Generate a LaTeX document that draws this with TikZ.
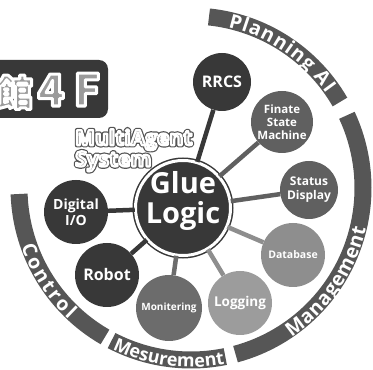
\documentclass[tikz,border=0pt]{standalone}
\usepackage{fontspec}
\setmainfont{Open Sans}
\newfontfamily\jpfont{Noto Sans CJK JP}
\usetikzlibrary{decorations.text}
\definecolor{DarkNode}{RGB}{56,56,56}
\definecolor{MidNode}{RGB}{96,96,96}
\definecolor{SoftNode}{RGB}{108,108,108}
\definecolor{LightNode}{RGB}{142,142,142}
\definecolor{PaleNode}{RGB}{156,156,156}
\definecolor{BandGray}{RGB}{86,86,86}
\definecolor{AgentGray}{RGB}{128,128,128}
\definecolor{GlyphGray}{RGB}{155,155,155}
\newcommand\arcfont{\bfseries\fontsize{19.5}{19.5}\selectfont}
\newcommand\arcfontsmall{\bfseries\fontsize{18}{18}\selectfont}
% stroked text: #1 line width, #2 stroke gray level, #3 text
\newcommand\strokedtext[3]{\special{pdf:literal direct #2 G #1 w 1 j 2 Tr}#3%
  \special{pdf:literal direct 0 Tr}}
\tikzset{
  hub/.style={circle,fill=DarkNode,draw=DarkNode,line width=1.5pt,
              double=white,double distance=3pt,minimum size=95pt,inner sep=0pt},
  hubtext/.style={text=white,align=center,inner sep=0pt,
                  font=\bfseries\fontsize{29}{30}\selectfont},
  sat/.style={circle,inner sep=0pt,text=white,align=center,
              font=\bfseries\fontsize{11.5}{13}\selectfont},
  band/.style={line width=17pt,BandGray},
  link/.style={line width=4.5pt},
  arclabel/.style={decoration={text along path,text color=white,
                   text align=fit to path},decorate},
  agent/.style={align=left,inner sep=0pt,anchor=north west,
                font=\bfseries\fontsize{21}{18}\selectfont},
  floorbox/.style={fill=DarkNode,rounded corners=9pt,minimum width=120pt,
                   minimum height=58pt,inner sep=0pt},
  floortext/.style={anchor=base,inner sep=0pt,font=\jpfont\bfseries},
}
\newcommand\floorlabel{{\fontsize{36}{36}\selectfont 館}%
  \makebox[36pt]{\fontsize{44}{44}\selectfont 4}%
  \makebox[36pt]{\fontsize{44}{44}\selectfont F}}

\begin{document}
\begin{tikzpicture}[x=1pt,y=1pt]
\useasboundingbox (0,0) rectangle (373,370);
\coordinate (ring) at (191,182);

\draw[band] ([shift={(84:172)}]ring) arc[start angle=84,end angle=30,radius=172];
\draw[band] ([shift={(-75:172)}]ring) arc[start angle=-75,end angle=25,radius=172];
\draw[band] ([shift={(-117.5:172)}]ring) arc[start angle=-117.5,end angle=-78.5,radius=172];
\draw[band] ([shift={(182:172)}]ring) arc[start angle=182,end angle=240,radius=172];

\begin{scope}
\arcfont
\path[arclabel,decoration={text={Planning AI}}]
  ([shift={(77:165)}]ring) arc[start angle=77,end angle=35,radius=165];
\path[arclabel,decoration={text={Management}}]
  ([shift={(-56:179.5)}]ring) arc[start angle=-56,end angle=-13,radius=179.5];
\path[arclabel,decoration={text={Control}}]
  ([shift={(199:179.5)}]ring) arc[start angle=199,end angle=227,radius=179.5];
\end{scope}
\begin{scope}
\arcfontsmall
\path[arclabel,decoration={text={Mesurement}}]
  ([shift={(-116:179)}]ring) arc[start angle=-116,end angle=-80,radius=179];
\end{scope}

\node[floorbox] (floor) at (48,281) {};
\node[floortext,text=GlyphGray] (floorname) at (51,264)
  {\strokedtext{3}{1}{\floorlabel}};

\node[hub] (glue) at (183,162) {};
\node[hubtext] (gluetext) at (183,169) {Glue\\Logic};

\node[sat,fill=DarkNode,minimum size=58pt,font=\bfseries\fontsize{16}{16}\selectfont]
  (rrcs) at (222,288) {RRCS};
\node[sat,fill=MidNode,minimum size=62pt] (fsm) at (282,248) {Finate\\State\\Machine};
\node[sat,fill=MidNode,minimum size=58pt,font=\bfseries\fontsize{12}{14}\selectfont]
  (status) at (309,180) {Status\\Display};
\node[sat,fill=LightNode,minimum size=64pt,font=\bfseries\fontsize{10.5}{11}\selectfont]
  (database) at (293,115) {Database};
\node[sat,fill=PaleNode,minimum size=64pt,font=\bfseries\fontsize{13.5}{15}\selectfont]
  (logging) at (240,67) {Logging};
\node[sat,fill=SoftNode,minimum size=66pt,font=\bfseries\fontsize{10}{11}\selectfont]
  (monitor) at (169,62) {Monitering};
\node[sat,fill=DarkNode,minimum size=64pt,font=\bfseries\fontsize{16}{16}\selectfont]
  (robot) at (107,95) {Robot};
\node[sat,fill=DarkNode,minimum size=64pt,font=\bfseries\fontsize{14}{16}\selectfont]
  (digital) at (76,158) {Digital\\I/O};

\draw[link,DarkNode] (glue) -- (rrcs);
\draw[link,MidNode] (glue) -- (fsm);
\draw[link,MidNode] (glue) -- (status);
\draw[link,LightNode] (glue) -- (database);
\draw[link,LightNode] (glue) -- (logging);
\draw[link,SoftNode] (glue) -- (monitor);
\draw[link,DarkNode] (glue) -- (robot);
\draw[link,DarkNode] (glue) -- (digital);

\node[agent,text=BandGray] (agentedge) at (75,241)
  {\strokedtext{4.6}{0.33}{MultiAgent}\\\strokedtext{4.6}{0.33}{System}};
\node[agent,text=AgentGray] (agentname) at (75,241)
  {\strokedtext{2.2}{1}{MultiAgent}\\\strokedtext{2.2}{1}{System}};
\end{tikzpicture}
\end{document}
